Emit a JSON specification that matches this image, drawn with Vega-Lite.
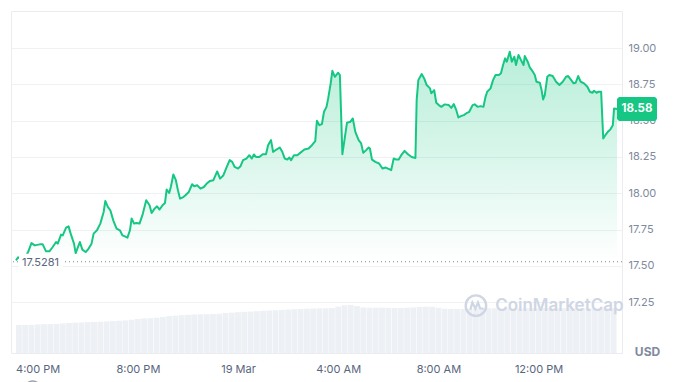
{
  "$schema": "https://vega.github.io/schema/vega-lite/v6.json",
  "autosize": "none",
  "width": 611,
  "height": 342,
  "padding": {"left": 11, "top": 11, "right": 56, "bottom": 29},
  "background": "white",
  "config": {
    "font": "Inter",
    "view": {"stroke": "#eaecef", "strokeWidth": 1},
    "axis": {"labelFont": "Inter", "titleFont": "Inter"}
  },
  "datasets": {
    "price": [
      {"t": "2024-03-18T15:08", "p": 17.538}, {"t": "2024-03-18T15:13", "p": 17.559}, {"t": "2024-03-18T15:20", "p": 17.545}, {"t": "2024-03-18T15:29", "p": 17.552},
      {"t": "2024-03-18T15:37", "p": 17.595}, {"t": "2024-03-18T15:45", "p": 17.657}, {"t": "2024-03-18T15:53", "p": 17.641}, {"t": "2024-03-18T16:05", "p": 17.648},
      {"t": "2024-03-18T16:12", "p": 17.648}, {"t": "2024-03-18T16:20", "p": 17.600}, {"t": "2024-03-18T16:28", "p": 17.600}, {"t": "2024-03-18T16:36", "p": 17.630},
      {"t": "2024-03-18T16:44", "p": 17.664}, {"t": "2024-03-18T16:48", "p": 17.653}, {"t": "2024-03-18T16:56", "p": 17.715}, {"t": "2024-03-18T17:00", "p": 17.710},
      {"t": "2024-03-18T17:08", "p": 17.763}, {"t": "2024-03-18T17:14", "p": 17.772}, {"t": "2024-03-18T17:19", "p": 17.722}, {"t": "2024-03-18T17:27", "p": 17.653},
      {"t": "2024-03-18T17:31", "p": 17.588}, {"t": "2024-03-18T17:41", "p": 17.664}, {"t": "2024-03-18T17:47", "p": 17.612}, {"t": "2024-03-18T17:55", "p": 17.595},
      {"t": "2024-03-18T18:02", "p": 17.619}, {"t": "2024-03-18T18:09", "p": 17.653}, {"t": "2024-03-18T18:14", "p": 17.722}, {"t": "2024-03-18T18:22", "p": 17.745},
      {"t": "2024-03-18T18:30", "p": 17.791}, {"t": "2024-03-18T18:38", "p": 17.871}, {"t": "2024-03-18T18:42", "p": 17.947}, {"t": "2024-03-18T18:48", "p": 17.906},
      {"t": "2024-03-18T18:54", "p": 17.883}, {"t": "2024-03-18T19:01", "p": 17.814}, {"t": "2024-03-18T19:09", "p": 17.757}, {"t": "2024-03-18T19:17", "p": 17.745},
      {"t": "2024-03-18T19:23", "p": 17.710}, {"t": "2024-03-18T19:29", "p": 17.703}, {"t": "2024-03-18T19:35", "p": 17.694}, {"t": "2024-03-18T19:41", "p": 17.745},
      {"t": "2024-03-18T19:45", "p": 17.826}, {"t": "2024-03-18T19:51", "p": 17.791}, {"t": "2024-03-18T19:56", "p": 17.795}, {"t": "2024-03-18T20:04", "p": 17.791},
      {"t": "2024-03-18T20:12", "p": 17.860}, {"t": "2024-03-18T20:20", "p": 17.952}, {"t": "2024-03-18T20:28", "p": 17.917}, {"t": "2024-03-18T20:33", "p": 17.864},
      {"t": "2024-03-18T20:40", "p": 17.894}, {"t": "2024-03-18T20:46", "p": 17.910}, {"t": "2024-03-18T20:52", "p": 17.888}, {"t": "2024-03-18T20:59", "p": 17.917},
      {"t": "2024-03-18T21:05", "p": 17.933}, {"t": "2024-03-18T21:09", "p": 18.026}, {"t": "2024-03-18T21:15", "p": 18.002}, {"t": "2024-03-18T21:19", "p": 18.043},
      {"t": "2024-03-18T21:25", "p": 18.129}, {"t": "2024-03-18T21:31", "p": 18.090}, {"t": "2024-03-18T21:36", "p": 18.021}, {"t": "2024-03-18T21:41", "p": 17.963},
      {"t": "2024-03-18T21:49", "p": 17.974}, {"t": "2024-03-18T21:54", "p": 17.986}, {"t": "2024-03-18T22:02", "p": 18.009}, {"t": "2024-03-18T22:10", "p": 18.062},
      {"t": "2024-03-18T22:15", "p": 18.048}, {"t": "2024-03-18T22:22", "p": 18.055}, {"t": "2024-03-18T22:30", "p": 18.032}, {"t": "2024-03-18T22:38", "p": 18.043},
      {"t": "2024-03-18T22:45", "p": 18.067}, {"t": "2024-03-18T22:53", "p": 18.085}, {"t": "2024-03-18T23:01", "p": 18.090}, {"t": "2024-03-18T23:10", "p": 18.150},
      {"t": "2024-03-18T23:17", "p": 18.101}, {"t": "2024-03-18T23:25", "p": 18.124}, {"t": "2024-03-18T23:33", "p": 18.181}, {"t": "2024-03-18T23:40", "p": 18.228},
      {"t": "2024-03-18T23:46", "p": 18.216}, {"t": "2024-03-18T23:52", "p": 18.181}, {"t": "2024-03-19T00:00", "p": 18.170}, {"t": "2024-03-19T00:06", "p": 18.186},
      {"t": "2024-03-19T00:12", "p": 18.228}, {"t": "2024-03-19T00:20", "p": 18.239}, {"t": "2024-03-19T00:27", "p": 18.262}, {"t": "2024-03-19T00:33", "p": 18.239},
      {"t": "2024-03-19T00:38", "p": 18.267}, {"t": "2024-03-19T00:43", "p": 18.250}, {"t": "2024-03-19T00:51", "p": 18.250}, {"t": "2024-03-19T00:59", "p": 18.269},
      {"t": "2024-03-19T01:07", "p": 18.269}, {"t": "2024-03-19T01:12", "p": 18.331}, {"t": "2024-03-19T01:19", "p": 18.366}, {"t": "2024-03-19T01:24", "p": 18.285},
      {"t": "2024-03-19T01:32", "p": 18.301}, {"t": "2024-03-19T01:40", "p": 18.315}, {"t": "2024-03-19T01:46", "p": 18.285}, {"t": "2024-03-19T01:52", "p": 18.239},
      {"t": "2024-03-19T01:58", "p": 18.232}, {"t": "2024-03-19T02:03", "p": 18.246}, {"t": "2024-03-19T02:07", "p": 18.228}, {"t": "2024-03-19T02:14", "p": 18.262},
      {"t": "2024-03-19T02:22", "p": 18.262}, {"t": "2024-03-19T02:29", "p": 18.278}, {"t": "2024-03-19T02:39", "p": 18.301}, {"t": "2024-03-19T02:49", "p": 18.308},
      {"t": "2024-03-19T02:57", "p": 18.331}, {"t": "2024-03-19T03:05", "p": 18.359}, {"t": "2024-03-19T03:09", "p": 18.499}, {"t": "2024-03-19T03:15", "p": 18.469},
      {"t": "2024-03-19T03:21", "p": 18.476}, {"t": "2024-03-19T03:26", "p": 18.561}, {"t": "2024-03-19T03:32", "p": 18.595}, {"t": "2024-03-19T03:36", "p": 18.653},
      {"t": "2024-03-19T03:42", "p": 18.757}, {"t": "2024-03-19T03:46", "p": 18.843}, {"t": "2024-03-19T03:52", "p": 18.802}, {"t": "2024-03-19T04:00", "p": 18.830},
      {"t": "2024-03-19T04:04", "p": 18.814}, {"t": "2024-03-19T04:10", "p": 18.269}, {"t": "2024-03-19T04:15", "p": 18.366}, {"t": "2024-03-19T04:21", "p": 18.485},
      {"t": "2024-03-19T04:29", "p": 18.492}, {"t": "2024-03-19T04:35", "p": 18.515}, {"t": "2024-03-19T04:41", "p": 18.423}, {"t": "2024-03-19T04:49", "p": 18.366},
      {"t": "2024-03-19T04:55", "p": 18.343}, {"t": "2024-03-19T05:00", "p": 18.278}, {"t": "2024-03-19T05:07", "p": 18.297}, {"t": "2024-03-19T05:13", "p": 18.315},
      {"t": "2024-03-19T05:16", "p": 18.308}, {"t": "2024-03-19T05:21", "p": 18.232}, {"t": "2024-03-19T05:29", "p": 18.216}, {"t": "2024-03-19T05:38", "p": 18.205},
      {"t": "2024-03-19T05:46", "p": 18.170}, {"t": "2024-03-19T05:54", "p": 18.177}, {"t": "2024-03-19T06:02", "p": 18.166}, {"t": "2024-03-19T06:07", "p": 18.159},
      {"t": "2024-03-19T06:13", "p": 18.239}, {"t": "2024-03-19T06:19", "p": 18.232}, {"t": "2024-03-19T06:25", "p": 18.232}, {"t": "2024-03-19T06:31", "p": 18.262},
      {"t": "2024-03-19T06:39", "p": 18.292}, {"t": "2024-03-19T06:47", "p": 18.269}, {"t": "2024-03-19T06:56", "p": 18.250}, {"t": "2024-03-19T07:05", "p": 18.243},
      {"t": "2024-03-19T07:08", "p": 18.641}, {"t": "2024-03-19T07:12", "p": 18.779}, {"t": "2024-03-19T07:20", "p": 18.821}, {"t": "2024-03-19T07:26", "p": 18.791},
      {"t": "2024-03-19T07:32", "p": 18.745}, {"t": "2024-03-19T07:40", "p": 18.722}, {"t": "2024-03-19T07:43", "p": 18.688}, {"t": "2024-03-19T07:50", "p": 18.710},
      {"t": "2024-03-19T07:55", "p": 18.623}, {"t": "2024-03-19T08:01", "p": 18.607}, {"t": "2024-03-19T08:07", "p": 18.595}, {"t": "2024-03-19T08:15", "p": 18.612},
      {"t": "2024-03-19T08:25", "p": 18.607}, {"t": "2024-03-19T08:31", "p": 18.588}, {"t": "2024-03-19T08:37", "p": 18.614}, {"t": "2024-03-19T08:43", "p": 18.572},
      {"t": "2024-03-19T08:48", "p": 18.522}, {"t": "2024-03-19T08:54", "p": 18.531}, {"t": "2024-03-19T09:01", "p": 18.538}, {"t": "2024-03-19T09:09", "p": 18.554},
      {"t": "2024-03-19T09:14", "p": 18.561}, {"t": "2024-03-19T09:22", "p": 18.607}, {"t": "2024-03-19T09:27", "p": 18.612}, {"t": "2024-03-19T09:34", "p": 18.595},
      {"t": "2024-03-19T09:41", "p": 18.600}, {"t": "2024-03-19T09:48", "p": 18.595}, {"t": "2024-03-19T09:53", "p": 18.664}, {"t": "2024-03-19T09:57", "p": 18.699},
      {"t": "2024-03-19T10:05", "p": 18.722}, {"t": "2024-03-19T10:11", "p": 18.779}, {"t": "2024-03-19T10:17", "p": 18.814}, {"t": "2024-03-19T10:25", "p": 18.814},
      {"t": "2024-03-19T10:30", "p": 18.826}, {"t": "2024-03-19T10:35", "p": 18.883}, {"t": "2024-03-19T10:40", "p": 18.929}, {"t": "2024-03-19T10:44", "p": 18.906},
      {"t": "2024-03-19T10:51", "p": 18.974}, {"t": "2024-03-19T10:56", "p": 18.906}, {"t": "2024-03-19T11:02", "p": 18.940}, {"t": "2024-03-19T11:06", "p": 18.883},
      {"t": "2024-03-19T11:12", "p": 18.952}, {"t": "2024-03-19T11:18", "p": 18.917}, {"t": "2024-03-19T11:24", "p": 18.883}, {"t": "2024-03-19T11:27", "p": 18.945},
      {"t": "2024-03-19T11:34", "p": 18.906}, {"t": "2024-03-19T11:39", "p": 18.867}, {"t": "2024-03-19T11:45", "p": 18.843}, {"t": "2024-03-19T11:51", "p": 18.814},
      {"t": "2024-03-19T11:55", "p": 18.768}, {"t": "2024-03-19T12:03", "p": 18.761}, {"t": "2024-03-19T12:07", "p": 18.715}, {"t": "2024-03-19T12:11", "p": 18.646},
      {"t": "2024-03-19T12:15", "p": 18.676}, {"t": "2024-03-19T12:21", "p": 18.802}, {"t": "2024-03-19T12:26", "p": 18.814}, {"t": "2024-03-19T12:34", "p": 18.807},
      {"t": "2024-03-19T12:42", "p": 18.768}, {"t": "2024-03-19T12:50", "p": 18.745}, {"t": "2024-03-19T12:58", "p": 18.768}, {"t": "2024-03-19T13:06", "p": 18.802},
      {"t": "2024-03-19T13:11", "p": 18.807}, {"t": "2024-03-19T13:17", "p": 18.784}, {"t": "2024-03-19T13:24", "p": 18.757}, {"t": "2024-03-19T13:29", "p": 18.761},
      {"t": "2024-03-19T13:35", "p": 18.807}, {"t": "2024-03-19T13:41", "p": 18.768}, {"t": "2024-03-19T13:49", "p": 18.757}, {"t": "2024-03-19T13:57", "p": 18.733},
      {"t": "2024-03-19T14:03", "p": 18.699}, {"t": "2024-03-19T14:09", "p": 18.692}, {"t": "2024-03-19T14:13", "p": 18.706}, {"t": "2024-03-19T14:19", "p": 18.692},
      {"t": "2024-03-19T14:24", "p": 18.699}, {"t": "2024-03-19T14:30", "p": 18.699}, {"t": "2024-03-19T14:35", "p": 18.377}, {"t": "2024-03-19T14:40", "p": 18.400},
      {"t": "2024-03-19T14:46", "p": 18.423}, {"t": "2024-03-19T14:52", "p": 18.439}, {"t": "2024-03-19T14:58", "p": 18.469}, {"t": "2024-03-19T15:01", "p": 18.584},
      {"t": "2024-03-19T15:08", "p": 18.58}
    ],
    "vol": [
      {"t": "2024-03-18T15:15", "v": 31.0}, {"t": "2024-03-18T15:30", "v": 31.1}, {"t": "2024-03-18T15:45", "v": 31.3}, {"t": "2024-03-18T16:00", "v": 31.8},
      {"t": "2024-03-18T16:15", "v": 32.0}, {"t": "2024-03-18T16:30", "v": 32.2}, {"t": "2024-03-18T16:45", "v": 32.4}, {"t": "2024-03-18T17:00", "v": 32.9},
      {"t": "2024-03-18T17:15", "v": 33.4}, {"t": "2024-03-18T17:30", "v": 33.7}, {"t": "2024-03-18T17:45", "v": 33.9}, {"t": "2024-03-18T18:00", "v": 34.3},
      {"t": "2024-03-18T18:15", "v": 34.6}, {"t": "2024-03-18T18:30", "v": 34.8}, {"t": "2024-03-18T18:45", "v": 35.1}, {"t": "2024-03-18T19:00", "v": 35.6},
      {"t": "2024-03-18T19:15", "v": 35.9}, {"t": "2024-03-18T19:30", "v": 36.2}, {"t": "2024-03-18T19:45", "v": 37.0}, {"t": "2024-03-18T20:00", "v": 37.9},
      {"t": "2024-03-18T20:15", "v": 38.4}, {"t": "2024-03-18T20:30", "v": 38.6}, {"t": "2024-03-18T20:45", "v": 39.2}, {"t": "2024-03-18T21:00", "v": 40.0},
      {"t": "2024-03-18T21:15", "v": 41.1}, {"t": "2024-03-18T21:30", "v": 41.5}, {"t": "2024-03-18T21:45", "v": 42.0}, {"t": "2024-03-18T22:00", "v": 42.4},
      {"t": "2024-03-18T22:15", "v": 42.8}, {"t": "2024-03-18T22:30", "v": 43.0}, {"t": "2024-03-18T22:45", "v": 43.1}, {"t": "2024-03-18T23:00", "v": 43.3},
      {"t": "2024-03-18T23:15", "v": 43.6}, {"t": "2024-03-18T23:30", "v": 44.3}, {"t": "2024-03-18T23:45", "v": 44.8}, {"t": "2024-03-19T00:00", "v": 45.3},
      {"t": "2024-03-19T00:15", "v": 45.8}, {"t": "2024-03-19T00:30", "v": 46.1}, {"t": "2024-03-19T00:45", "v": 46.4}, {"t": "2024-03-19T01:00", "v": 46.9},
      {"t": "2024-03-19T01:15", "v": 47.2}, {"t": "2024-03-19T01:30", "v": 47.5}, {"t": "2024-03-19T01:45", "v": 47.9}, {"t": "2024-03-19T02:00", "v": 48.3},
      {"t": "2024-03-19T02:15", "v": 48.6}, {"t": "2024-03-19T02:30", "v": 48.9}, {"t": "2024-03-19T02:45", "v": 49.2}, {"t": "2024-03-19T03:00", "v": 49.4},
      {"t": "2024-03-19T03:15", "v": 49.6}, {"t": "2024-03-19T03:30", "v": 49.7}, {"t": "2024-03-19T03:45", "v": 49.9}, {"t": "2024-03-19T04:00", "v": 51.5},
      {"t": "2024-03-19T04:15", "v": 53.0}, {"t": "2024-03-19T04:30", "v": 53.3}, {"t": "2024-03-19T04:45", "v": 52.0}, {"t": "2024-03-19T05:00", "v": 50.6},
      {"t": "2024-03-19T05:15", "v": 50.3}, {"t": "2024-03-19T05:30", "v": 50.3}, {"t": "2024-03-19T05:45", "v": 50.4}, {"t": "2024-03-19T06:00", "v": 50.2},
      {"t": "2024-03-19T06:15", "v": 50.1}, {"t": "2024-03-19T06:30", "v": 50.0}, {"t": "2024-03-19T06:45", "v": 50.3}, {"t": "2024-03-19T07:00", "v": 50.6},
      {"t": "2024-03-19T07:15", "v": 51.2}, {"t": "2024-03-19T07:30", "v": 51.4}, {"t": "2024-03-19T07:45", "v": 51.3}, {"t": "2024-03-19T08:00", "v": 50.2},
      {"t": "2024-03-19T08:15", "v": 49.2}, {"t": "2024-03-19T08:30", "v": 48.9}, {"t": "2024-03-19T08:45", "v": 48.9}, {"t": "2024-03-19T09:00", "v": 49.0},
      {"t": "2024-03-19T09:15", "v": 49.3}, {"t": "2024-03-19T09:30", "v": 49.6}, {"t": "2024-03-19T09:45", "v": 49.7}, {"t": "2024-03-19T10:00", "v": 49.7},
      {"t": "2024-03-19T10:15", "v": 49.7}, {"t": "2024-03-19T10:30", "v": 49.6}, {"t": "2024-03-19T10:45", "v": 49.7}, {"t": "2024-03-19T11:00", "v": 49.8},
      {"t": "2024-03-19T11:15", "v": 49.7}, {"t": "2024-03-19T11:30", "v": 49.6}, {"t": "2024-03-19T11:45", "v": 49.7}, {"t": "2024-03-19T12:00", "v": 49.7},
      {"t": "2024-03-19T12:15", "v": 49.8}, {"t": "2024-03-19T12:30", "v": 49.7}, {"t": "2024-03-19T12:45", "v": 49.6}, {"t": "2024-03-19T13:00", "v": 49.7},
      {"t": "2024-03-19T13:15", "v": 49.7}, {"t": "2024-03-19T13:30", "v": 49.8}, {"t": "2024-03-19T13:45", "v": 49.7}, {"t": "2024-03-19T14:00", "v": 49.7},
      {"t": "2024-03-19T14:15", "v": 49.6}, {"t": "2024-03-19T14:30", "v": 49.7}, {"t": "2024-03-19T14:45", "v": 49.7}, {"t": "2024-03-19T15:00", "v": 49.7}
    ],
    "ref": [{"t": "2024-03-18T15:08", "p": 17.5281, "label": "17.5281"}],
    "last": [{"t": "2024-03-19T15:08", "p": 18.58, "label": "18.58"}],
    "brand": [{"t": "2024-03-19T10:16", "tl": "2024-03-19T09:30", "p": 17.226, "label": "CoinMarketCap"}],
    "icon": [{"t": "2024-03-18T15:48", "p": 16.652}]
  },
  "layer": [
    {
      "data": {"name": "vol"},
      "mark": {"type": "bar", "width": 5.8, "color": "#edf0f4"},
      "encoding": {
        "x": {"field": "t", "type": "temporal", "scale": {"domain": ["2024-03-18T15:08", "2024-03-19T15:08"]},
          "axis": {"orient": "bottom", "values": ["2024-03-18T16:00", "2024-03-18T20:00", "2024-03-19T00:00", "2024-03-19T04:00", "2024-03-19T08:00", "2024-03-19T12:00"], "labelExpr": "hours(datum.value) == 0 ? timeFormat(datum.value, '%-d %b') : timeFormat(datum.value, '%-I:%M %p')", "grid": false, "domain": false, "ticks": false, "labelPadding": 10, "labelFontSize": 11, "labelColor": "#58667e", "labelOverlap": false, "labelFlush": false, "title": null}},
        "y": {"field": "v", "type": "quantitative", "scale": {"domain": [0, 380], "nice": false}, "axis": null}
      }
    },
    {
      "layer": [
        {
          "data": {"name": "price"},
          "mark": {"type": "area", "color": {"gradient": "linear", "x1": 0, "y1": 0, "x2": 0, "y2": 1, "stops": [{"offset": 0, "color": "rgba(22,199,132,0.30)"}, {"offset": 0.5, "color": "rgba(22,199,132,0.16)"}, {"offset": 1, "color": "rgba(22,199,132,0.0)"}]}},
          "encoding": {
            "x": {"field": "t", "type": "temporal"},
            "y": {"field": "p", "type": "quantitative", "scale": {"domain": [16.9, 19.255], "nice": false, "zero": false},
              "axis": {"orient": "right", "values": [17.25, 17.5, 17.75, 18.0, 18.25, 18.5, 18.75, 19.0], "format": ".2f", "grid": true, "gridColor": "#eff1f4", "domain": false, "ticks": false, "labelPadding": 6, "labelFontSize": 11, "labelColor": "#808a9d", "title": "USD", "titleAngle": 0, "titleX": 25, "titleY": 340, "titleAlign": "center", "titleBaseline": "middle", "titleFontSize": 12, "titleFontWeight": "bold", "titleColor": "#808a9d"}},
            "y2": {"datum": 17.5281}
          }
        },
        {
          "data": {"name": "price"},
          "mark": {"type": "line", "color": "#16c784", "strokeWidth": 2, "strokeJoin": "round"},
          "encoding": {"x": {"field": "t", "type": "temporal"}, "y": {"field": "p", "type": "quantitative"}}
        },
        {
          "data": {"name": "ref"},
          "mark": {"type": "rule", "color": "#7f8899", "strokeDash": [1, 3], "strokeWidth": 1},
          "encoding": {"y": {"field": "p", "type": "quantitative"}}
        },
        {
          "data": {"name": "ref"},
          "mark": {"type": "point", "filled": true, "color": "white", "opacity": 1, "size": 1936, "shape": "M-1,-0.36L1,-0.36L1,0.36L-1,0.36Z", "xOffset": 25},
          "encoding": {"x": {"field": "t", "type": "temporal"}, "y": {"field": "p", "type": "quantitative"}}
        },
        {
          "data": {"name": "ref"},
          "mark": {"type": "text", "align": "left", "baseline": "middle", "fontSize": 11, "color": "#58667e", "xOffset": 6, "dy": 1},
          "encoding": {"x": {"field": "t", "type": "temporal"}, "y": {"field": "p", "type": "quantitative"}, "text": {"field": "label"}}
        },
        {
          "data": {"name": "last"},
          "mark": {"type": "point", "filled": true, "color": "#16c784", "opacity": 1, "size": 1600, "shape": "M-0.9,-0.6L0.9,-0.6L1,-0.5L1,0.5L0.9,0.6L-0.9,0.6L-1,0.5L-1,-0.5Z", "xOffset": 20},
          "encoding": {"x": {"field": "t", "type": "temporal"}, "y": {"field": "p", "type": "quantitative"}}
        },
        {
          "data": {"name": "last"},
          "mark": {"type": "text", "align": "center", "baseline": "middle", "fontSize": 11.5, "fontWeight": "bold", "color": "white", "xOffset": 20},
          "encoding": {"x": {"field": "t", "type": "temporal"}, "y": {"field": "p", "type": "quantitative"}, "text": {"field": "label"}}
        },
        {
          "data": {"name": "brand"},
          "mark": {"type": "text", "align": "left", "baseline": "middle", "fontSize": 17, "fontWeight": 600, "color": "#cfd6e4"},
          "encoding": {"x": {"field": "t", "type": "temporal"}, "y": {"field": "p", "type": "quantitative"}, "text": {"field": "label"}}
        },
        {
          "data": {"name": "brand"},
          "mark": {"type": "point", "shape": "circle", "filled": false, "color": "#cfd6e4", "strokeWidth": 2.4, "opacity": 1, "size": 420},
          "encoding": {"x": {"field": "tl", "type": "temporal"}, "y": {"field": "p", "type": "quantitative"}}
        },
        {
          "data": {"name": "brand"},
          "mark": {"type": "point", "filled": false, "color": "#cfd6e4", "strokeWidth": 2.2, "opacity": 1, "size": 420, "shape": "M-0.55,0.4L-0.35,-0.3L-0.05,0.3L0.2,-0.3L0.4,0.25L0.75,0.3"},
          "encoding": {"x": {"field": "tl", "type": "temporal"}, "y": {"field": "p", "type": "quantitative"}}
        },
        {
          "data": {"name": "icon"},
          "mark": {"type": "point", "shape": "circle", "filled": false, "color": "#9aa1ad", "strokeWidth": 1.5, "opacity": 1, "size": 256},
          "encoding": {"x": {"field": "t", "type": "temporal"}, "y": {"field": "p", "type": "quantitative"}}
        }
      ]
    }
  ],
  "resolve": {"scale": {"y": "independent"}}
}
